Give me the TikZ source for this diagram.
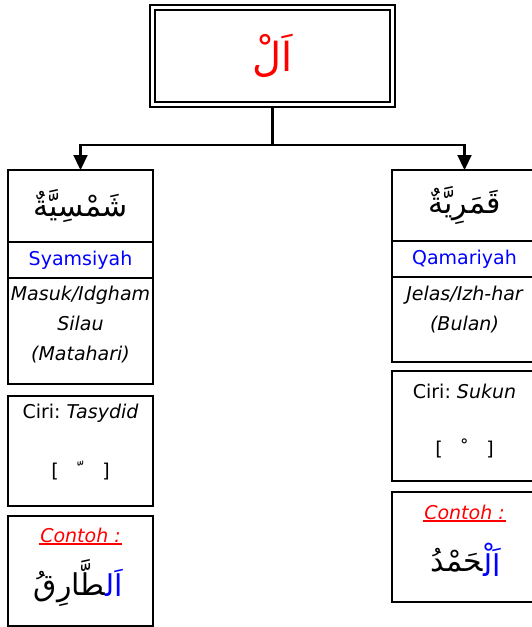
\documentclass[tikz,border=0pt]{standalone}
\usepackage{fontspec}
\setmainfont{DejaVu Sans}
\newfontfamily\arabicfont[Script=Arabic]{DejaVu Sans}
\TeXXeTstate=1
\usetikzlibrary{positioning,arrows.meta}
\newcommand{\ar}[1]{{\arabicfont\beginR #1\endR}}
\newcommand{\zwj}{{\char"200D}}
\tikzset{
  cell/.style={draw, line width=2.4pt, minimum width=145pt, inner sep=0pt, outer sep=0pt, align=center},
  wire/.style={line width=2.2pt},
  tip/.style={-{Triangle[width=14pt,length=15pt]}},
  lbl/.style={inner sep=0pt, align=center},
  arab/.style={inner sep=0pt, font=\fontsize{30}{32}\selectfont},
  contoh/.style={inner sep=1.5pt, text=red, font=\itshape\fontsize{19}{22}\selectfont},
}
\begin{document}
\begin{tikzpicture}[x=1pt, y=1pt, font=\fontsize{19}{30}\selectfont]
    \useasboundingbox (0,0) rectangle (531,-627);

    % Kotak atas (al)
    \node[draw, double, line width=2.2pt, double distance=2.5pt, minimum width=240pt, minimum height=97pt, inner sep=0pt] (al) at (272.5,-56) {};
    \node[text=red, font=\fontsize{40}{44}\selectfont] (altxt) at (al) {\ar{اَلْ}};

    % Garis cabang
    \coordinate (split) at (272.5,-145);
    \draw[wire] (al.south) -- (split);

    % Kolom kiri: syamsiyah
    \node[cell, minimum height=72pt] (syams) at (80.5,-206) {\ar{\fontsize{30}{32}\selectfont شَمْسِيَّةٌ}};
    \node[cell, minimum height=36pt, below=0pt of syams, text=blue] (syamsname) {Syamsiyah};
    \node[cell, minimum height=106pt, below=0pt of syamsname] (syamsrule) {};
    \node[cell, minimum height=110pt, below=12pt of syamsrule] (syamsciri) {};
    \node[cell, minimum height=110pt, below=10pt of syamsciri] (syamscontoh) {};

    \node[lbl, font=\itshape\fontsize{19}{30}\selectfont] (syamsruletxt) at ([yshift=-47pt]syamsrule.north) {Masuk/Idgham\\Silau\\(Matahari)};
    \node[lbl] (syamsciritxt) at ([yshift=-17pt]syamsciri.north) {Ciri:\ \textit{Tasydid}};
    \node[lbl] (syamstanda) at ([yshift=-74pt]syamsciri.north) {[\quad{\arabicfont\char"FE7C}\quad]};
    \node[contoh] (syamscontohtxt) at ([yshift=-19pt]syamscontoh.north) {Contoh :};
    \draw[red, line width=1.8pt] (syamscontohtxt.south west) -- (syamscontohtxt.south east);
    \node[arab, anchor=east] (syamsex) at ([xshift=25pt, yshift=-67pt]syamscontoh.north) {\ar{\zwj طَّارِقُ}};
    \node[arab, right=0pt of syamsex, text=blue] (syamsexal) {\ar{اَل\zwj}};

    % Kolom kanan: qamariyah
    \node[cell, minimum height=71pt] (qamar) at (464.5,-205.5) {\ar{\fontsize{30}{32}\selectfont قَمَرِيَّةٌ}};
    \node[cell, minimum height=36pt, below=0pt of qamar, text=blue] (qamarname) {Qamariyah};
    \node[cell, minimum height=85pt, below=0pt of qamarname] (qamarrule) {};
    \node[cell, minimum height=110pt, below=9pt of qamarrule] (qamarciri) {};
    \node[cell, minimum height=110pt, below=11pt of qamarciri] (qamarcontoh) {};

    \node[lbl, font=\itshape\fontsize{19}{30}\selectfont] (qamarruletxt) at ([yshift=-33pt]qamarrule.north) {Jelas/Izh-har\\(Bulan)};
    \node[lbl] (qamarciritxt) at ([yshift=-20pt]qamarciri.north) {Ciri:\ \textit{Sukun}};
    \node[lbl] (qamartanda) at ([yshift=-77pt]qamarciri.north) {[\quad{\arabicfont\char"FE7E}\quad]};
    \node[contoh] (qamarcontohtxt) at ([yshift=-20pt]qamarcontoh.north) {Contoh :};
    \draw[red, line width=1.8pt] (qamarcontohtxt.south west) -- (qamarcontohtxt.south east);
    \node[arab, anchor=east] (qamarex) at ([xshift=19pt, yshift=-68pt]qamarcontoh.north) {\ar{\zwj حَمْدُ}};
    \node[arab, right=0pt of qamarex, text=blue] (qamarexal) {\ar{اَلْ\zwj}};

    % Panah ke kedua kolom
    \draw[wire, tip] (split) -| (syams.north);
    \draw[wire, tip] (split) -| (qamar.north);
\end{tikzpicture}
\end{document}
